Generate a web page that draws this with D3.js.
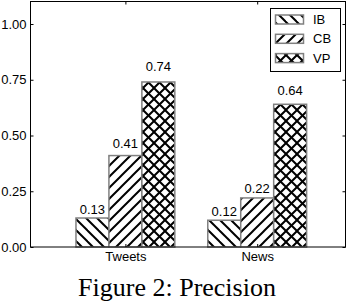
<!DOCTYPE html>
<html><head><meta charset="utf-8">
<script src="https://cdn.jsdelivr.net/npm/d3@7"></script>
<style>html,body{margin:0;padding:0;background:#fff;}svg{display:block;}</style>
</head><body>
<svg id="chart" width="348" height="304"></svg>
<script>
const categories = ["Tweets", "News"];
const seriesNames = ["IB", "CB", "VP"];
const IB = [0.13, 0.12];
const CB = [0.41, 0.22];
const VP = [0.74, 0.64];
const yTicks = [0.00, 0.25, 0.50, 0.75, 1.00];
const caption = "Figure 2: Precision";

(function () {
const series = [IB, CB, VP];
const hatchIds = ["hIB", "hCB", "hVP"];

const svg = d3.select("#chart");
const pL = 30.5, pR = 345.5, pT = 1.5, pB = 247;

const x = d3.scaleLinear().domain([-0.72, 1.67]).range([pL, pR]);
const y = d3.scaleLinear().domain([0, 1.1]).range([pB, pB - 1.1 * 223]);
const barW = 0.25;

const defs = svg.append("defs");
const P = 11;
function pat(id, drawFn) {
  const p = defs.append("pattern").attr("id", id).attr("patternUnits", "userSpaceOnUse")
    .attr("width", P).attr("height", P);
  p.append("rect").attr("width", P).attr("height", P).attr("fill", "#fff");
  drawFn(p);
}
function line(p, x1, y1, x2, y2) {
  p.append("line").attr("x1", x1).attr("y1", y1).attr("x2", x2).attr("y2", y2)
    .attr("stroke", "#000").attr("stroke-width", 2).attr("stroke-linecap", "square");
}
pat("hIB", p => { line(p, 0, 0, P, P); line(p, -1, P - 1, 1, P + 1); line(p, P - 1, -1, P + 1, 1); });
pat("hCB", p => { line(p, 0, P, P, 0); line(p, -1, 1, 1, -1); line(p, P - 1, P + 1, P + 1, P - 1); });
pat("hVP", p => {
  line(p, 0, 0, P, P); line(p, -1, P - 1, 1, P + 1); line(p, P - 1, -1, P + 1, 1);
  line(p, 0, P, P, 0); line(p, -1, 1, 1, -1); line(p, P - 1, P + 1, P + 1, P - 1);
});

const font = "Liberation Sans, Arial, sans-serif";

series.forEach((vals, si) => {
  const off = (si - 1) * barW;
  svg.selectAll(null).data(vals).enter().append("rect")
    .attr("x", (d, i) => x(i + off - barW / 2))
    .attr("width", (d, i) => x(i + off + barW / 2) - x(i + off - barW / 2))
    .attr("y", d => y(d))
    .attr("height", d => y(0) - y(d))
    .attr("fill", "url(#" + hatchIds[si] + ")")
    .attr("stroke", "#808080").attr("stroke-width", 1.5);
  svg.selectAll(null).data(vals).enter().append("text")
    .attr("x", (d, i) => x(i + off))
    .attr("y", d => y(d * 1.05) - 2.5)
    .attr("text-anchor", "middle")
    .attr("font-family", font).attr("font-size", 13)
    .attr("fill", "#000")
    .text(d => d.toFixed(2));
});

svg.append("rect").attr("x", pL).attr("y", pT).attr("width", pR - pL).attr("height", pB - pT)
  .attr("fill", "none").attr("stroke", "#000").attr("stroke-width", 1);

const yAxis = d3.axisLeft(y).tickValues(yTicks).tickSize(-3).tickPadding(4).tickFormat(d3.format(".2f"));
const gy = svg.append("g").attr("transform", `translate(${pL},0)`).call(yAxis);
const yAxisR = d3.axisRight(y).tickValues(yTicks).tickSize(-3).tickFormat("");
const gyr = svg.append("g").attr("transform", `translate(${pR},0)`).call(yAxisR);
const xAxis = d3.axisBottom(x).tickValues([0, 1]).tickSize(-3).tickPadding(5).tickFormat(i => categories[i]);
const gx = svg.append("g").attr("transform", `translate(0,${pB})`).call(xAxis);
const xAxisT = d3.axisTop(x).tickValues([0, 1]).tickSize(-3).tickFormat("");
const gxt = svg.append("g").attr("transform", `translate(0,${pT})`).call(xAxisT);
[gy, gyr, gx, gxt].forEach(g => {
  g.select(".domain").remove();
  g.selectAll("line").attr("stroke", "#000");
  g.selectAll("text").attr("font-family", font).attr("font-size", 13).attr("fill", "#000");
});

const lg = svg.append("g");
lg.append("rect").attr("x", 270.5).attr("y", 8.5).attr("width", 70).attr("height", 63)
  .attr("fill", "#fff").attr("stroke", "#000").attr("stroke-width", 1);
seriesNames.forEach((n, i) => {
  const cy = 19.5 + i * 19.3;
  lg.append("rect").attr("x", 275.5).attr("y", cy - 4.5).attr("width", 28).attr("height", 9)
    .attr("fill", "url(#" + hatchIds[i] + ")").attr("stroke", "#808080").attr("stroke-width", 1.5);
  lg.append("text").attr("x", 313).attr("y", cy + 4.5).attr("font-family", font).attr("font-size", 13)
    .attr("fill", "#000").text(n);
});

svg.append("text").attr("x", 177).attr("y", 296).attr("text-anchor", "middle")
  .attr("font-family", "Liberation Serif, Times New Roman, serif").attr("font-size", 26)
  .attr("fill", "#000").text(caption);
})();
</script>
</body></html>
